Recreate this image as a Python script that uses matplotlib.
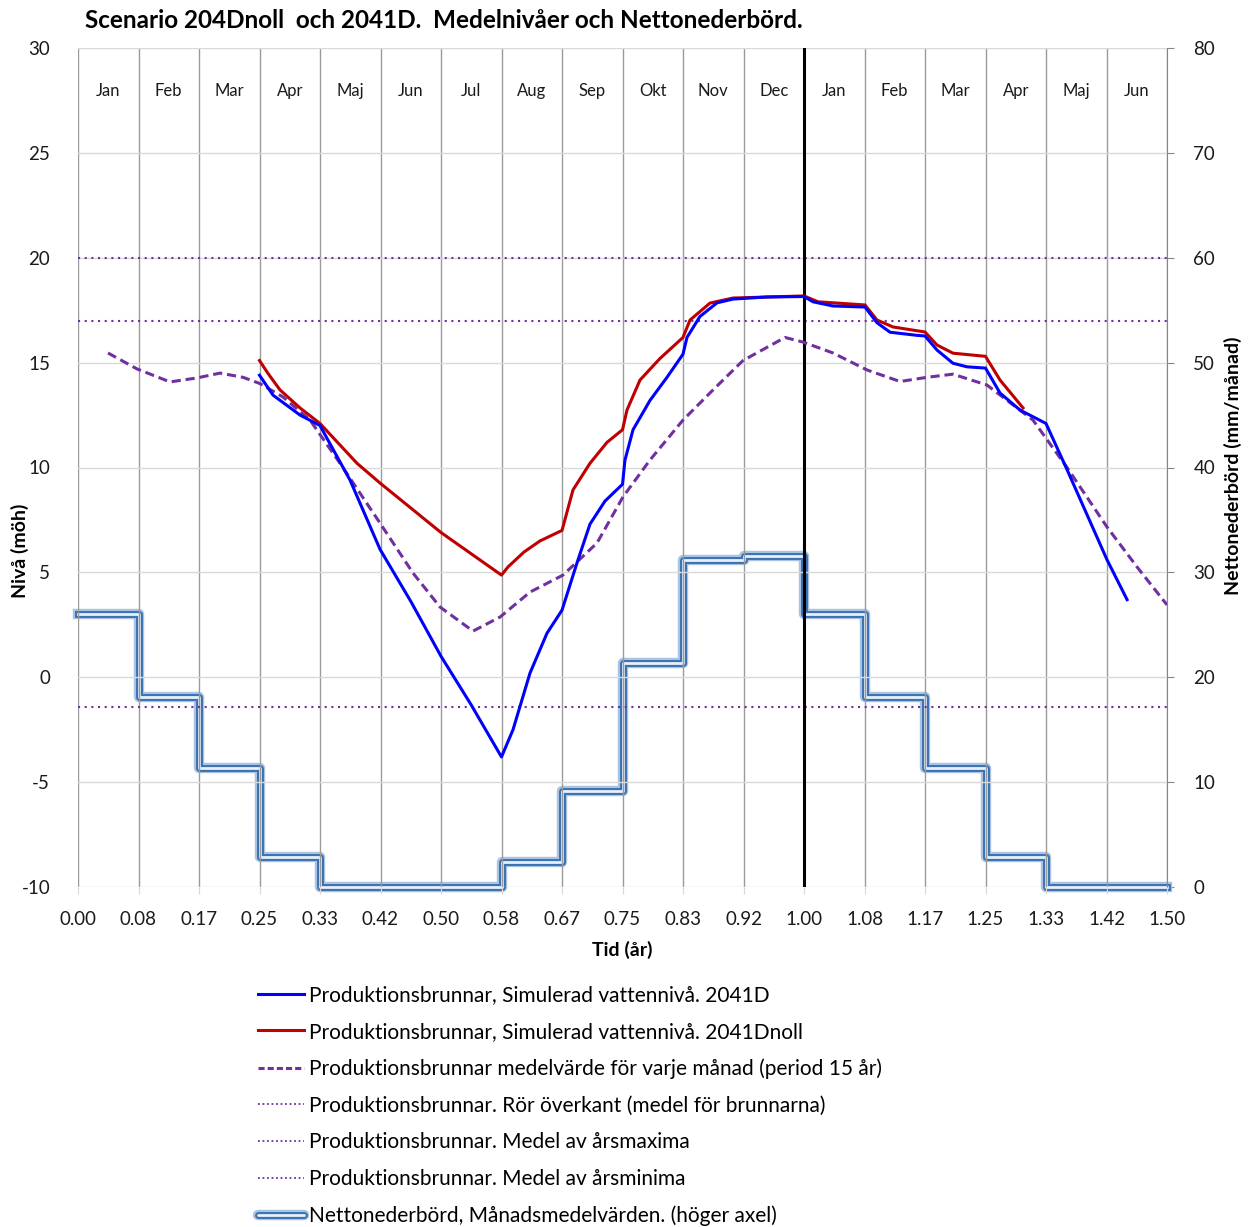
import matplotlib.pyplot as plt
from matplotlib.lines import Line2D
from matplotlib.legend_handler import HandlerTuple
import numpy as np

plt.rcParams["font.family"] = ["Lato", "DejaVu Sans"]
plt.rcParams["axes.unicode_minus"] = False

# Month names shown inside the plot (Jan..Dec, Jan..Jun)
month_names = ["Jan", "Feb", "Mar", "Apr", "Maj", "Jun", "Jul", "Aug", "Sep", "Okt", "Nov", "Dec",
               "Jan", "Feb", "Mar", "Apr", "Maj", "Jun"]

# Net precipitation per month (mm/month, right axis)
precip = [26.0, 18.1, 11.3, 2.9, 0.0, 0.0, 0.0, 2.4, 9.2, 21.4, 31.2, 31.6,
          26.0, 18.1, 11.3, 2.9, 0.0, 0.0]

# Simulated level 2041D (blue)
t_2041d = [0.25, 0.2686, 0.3058, 0.3333, 0.3747, 0.4160, 0.4587, 0.5, 0.5413, 0.5833,
           0.5992, 0.6226, 0.6460, 0.6667, 0.6873, 0.7052, 0.7259, 0.75, 0.7534, 0.7645,
           0.7879, 0.8113, 0.8333, 0.8388, 0.8567, 0.8802, 0.9022, 0.9490, 1.0, 1.0124,
           1.0399, 1.0840, 1.1006, 1.1185, 1.1556, 1.1667, 1.1832, 1.2052, 1.2245, 1.25,
           1.2700, 1.2975, 1.3333, 1.3623, 1.4174, 1.445]
lvl_2041d = [14.4, 13.45, 12.5, 12.0, 9.4, 6.1, 3.6, 1.0, -1.3, -3.8,
             -2.5, 0.2, 2.1, 3.2, 5.45, 7.3, 8.4, 9.2, 10.35, 11.8,
             13.2, 14.3, 15.4, 16.2, 17.2, 17.85, 18.03, 18.13, 18.15, 17.9,
             17.7, 17.65, 16.9, 16.45, 16.3, 16.27, 15.6, 14.97, 14.8, 14.74,
             13.55, 12.74, 12.1, 9.9, 5.6, 3.7]

# Simulated level 2041Dnoll (red)
t_2041dn = [0.25, 0.2614, 0.2782, 0.3058, 0.3333, 0.3843, 0.4160, 0.5, 0.5833, 0.5923,
            0.6143, 0.6364, 0.6667, 0.6818, 0.7052, 0.7287, 0.75, 0.7562, 0.7741, 0.8017,
            0.8333, 0.8430, 0.8705, 0.9022, 1.0, 1.0193, 1.0840, 1.1006, 1.1226, 1.1667,
            1.1832, 1.2052, 1.25, 1.2700, 1.3017]
lvl_2041dn = [15.1, 14.5, 13.7, 12.84, 12.1, 10.2, 9.26, 6.9, 4.87, 5.26,
              5.97, 6.5, 7.0, 8.93, 10.2, 11.2, 11.8, 12.74, 14.17, 15.2,
              16.2, 17.03, 17.84, 18.08, 18.18, 17.9, 17.75, 17.03, 16.7, 16.46,
              15.84, 15.45, 15.3, 14.17, 12.84]

# Monthly mean (period 15 years), dashed purple
t_mean = [0.0413, 0.0813, 0.1267, 0.1639, 0.1956, 0.2273, 0.2507, 0.2824, 0.3196, 0.3609,
          0.4160, 0.4614, 0.4986, 0.5441, 0.5813, 0.6226, 0.6680, 0.7149, 0.7507, 0.7879,
          0.8333, 0.8747, 0.9160, 0.9738, 0.9986, 1.0399, 1.0868, 1.1322, 1.1694, 1.2052,
          1.2521, 1.3154, 1.3623, 1.4174, 1.4587, 1.5]
lvl_mean = [15.46, 14.7, 14.08, 14.27, 14.5, 14.3, 14.0, 13.36, 12.26, 10.2,
            7.35, 4.97, 3.35, 2.2, 2.87, 4.06, 4.87, 6.4, 8.6, 10.36,
            12.26, 13.7, 15.1, 16.2, 15.98, 15.46, 14.65, 14.1, 14.3, 14.45,
            13.93, 12.26, 10.0, 7.16, 5.26, 3.45]

# Reference levels (dotted)
ror_overkant = 20.0
medel_max = 17.0
medel_min = -1.4

purple = "#7030a0"

fig = plt.figure(figsize=(12.52, 12.27), dpi=100)
ax = fig.add_axes([78 / 1252, 1 - 887 / 1227, (1167 - 78) / 1252, (887 - 48) / 1227])
ax2 = ax.twinx()
ax.set_zorder(ax2.get_zorder() + 1)
ax.patch.set_visible(False)

n_months = len(month_names)
edges = np.arange(n_months + 1) / 12

# precipitation as double line steps on right axis
px = list(edges)
py = precip + [precip[-1]]
ax2.step(px, py, where="post", color="#a9c3e2", lw=7.5, solid_joinstyle="round", clip_on=False)
ax2.step(px, py, where="post", color="#3d72b3", lw=5, solid_joinstyle="round", clip_on=False)
ax2.step(px, py, where="post", color="#e8f0f9", lw=2, solid_joinstyle="round", clip_on=False)
ax2.set_ylim(0, 80)
ax2.set_yticks(np.arange(0, 81, 10))

ax.plot(t_2041d, lvl_2041d, color="#0000ff", lw=2.2, zorder=5)
ax.plot(t_2041dn, lvl_2041dn, color="#c00000", lw=2.2, zorder=4)
ax.plot(t_mean, lvl_mean, color=purple, lw=2.2, ls=(0, (3, 1.6)), zorder=3)
for lvl in [ror_overkant, medel_max, medel_min]:
    ax.axhline(lvl, color=purple, lw=1.5, ls=(0, (1, 2.2)), zorder=2)

ax.axvline(1.0, color="black", lw=2.2, zorder=2)

ax.set_xlim(0, 1.5)
ax.set_ylim(-10, 30)
ax.set_xticks(edges)
ax.set_xticklabels([f"{v:.2f}" for v in edges])
ax.set_yticks(np.arange(-10, 31, 5))
ax.grid(axis="x", color="#9a9a9a", lw=1)
ax.grid(axis="y", color="#d9d9d9", lw=1)
ax.set_axisbelow(True)
ax2.grid(False)

for i, name in enumerate(month_names):
    ax.text((i + 0.5) / 12, 27.95, name, ha="center", va="center", fontsize=12, color="#1a1a1a")

for a in (ax, ax2):
    for s in a.spines.values():
        s.set_visible(False)
ax2.spines["right"].set_visible(True)
ax2.spines["right"].set_color("#868686")

ax.tick_params(axis="x", length=5, color="#d9d9d9", pad=12, labelsize=13.5, labelcolor="#1a1a1a")
ax.tick_params(axis="y", length=0, pad=20, labelsize=13.5, labelcolor="#1a1a1a")
ax2.tick_params(axis="y", length=5, color="#868686", pad=14, labelsize=13.5, labelcolor="#1a1a1a")

fig.text(85 / 1252, 1 - 20 / 1227, "Scenario 204Dnoll  och 2041D.  Medelnivåer och Nettonederbörd.",
         ha="left", va="center", fontsize=17.5, fontweight="bold")
fig.text(622 / 1252, 1 - 950 / 1227, "Tid (år)", ha="center", va="center", fontsize=14, fontweight="bold")
fig.text(20 / 1252, 1 - 551 / 1227, "Nivå (möh)", ha="center", va="center", rotation=90,
         fontsize=14, fontweight="bold")
fig.text(1233 / 1252, 1 - 466 / 1227, "Nettonederbörd (mm/månad)", ha="center", va="center",
         rotation=90, fontsize=14, fontweight="bold")

handles = [
    Line2D([], [], color="#0000ff", lw=2.2),
    Line2D([], [], color="#c00000", lw=2.2),
    Line2D([], [], color=purple, lw=2.2, ls=(0, (2, 1))),
    Line2D([], [], color=purple, lw=1.3, ls=(0, (1, 1.5))),
    Line2D([], [], color=purple, lw=1.3, ls=(0, (1, 1.5))),
    Line2D([], [], color=purple, lw=1.3, ls=(0, (1, 1.5))),
    (Line2D([], [], color="#a9c3e2", lw=7.5, solid_capstyle="round"),
     Line2D([], [], color="#3d72b3", lw=5, solid_capstyle="round"),
     Line2D([], [], color="#e8f0f9", lw=2, solid_capstyle="round")),
]
labels = [
    "Produktionsbrunnar, Simulerad vattennivå. 2041D",
    "Produktionsbrunnar, Simulerad vattennivå. 2041Dnoll",
    "Produktionsbrunnar medelvärde för varje månad (period 15 år)",
    "Produktionsbrunnar. Rör överkant (medel för brunnarna)",
    "Produktionsbrunnar. Medel av årsmaxima",
    "Produktionsbrunnar. Medel av årsminima",
    "Nettonederbörd, Månadsmedelvärden. (höger axel)",
]
fig.legend(handles, labels, loc="upper left", bbox_to_anchor=(258 / 1252, 1 - 985 / 1227),
           frameon=False, fontsize=15, handlelength=2.2, handletextpad=0.25, labelspacing=0.8,
           borderpad=0, borderaxespad=0, handler_map={tuple: HandlerTuple(ndivide=1, pad=0)})

fig.savefig("out.png", dpi=100)
